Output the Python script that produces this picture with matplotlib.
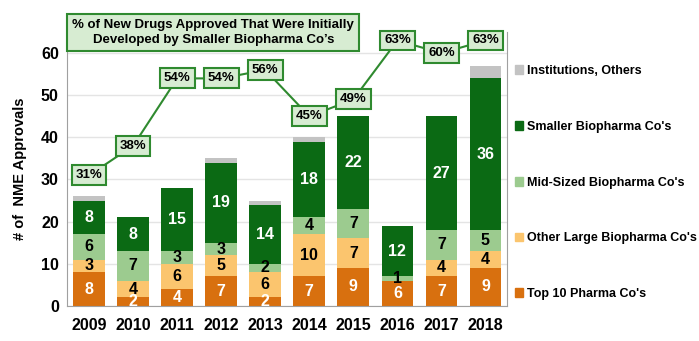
import numpy as np
import matplotlib.pyplot as plt
from matplotlib.patches import Patch

plt.rcParams['font.family'] = ['Liberation Sans', 'DejaVu Sans']
plt.rcParams['font.weight'] = 'bold'

years = ['2009', '2010', '2011', '2012', '2013', '2014', '2015', '2016', '2017', '2018']
top10 = [8, 2, 4, 7, 2, 7, 9, 6, 7, 9]
other_large = [3, 4, 6, 5, 6, 10, 7, 0, 4, 4]
mid_sized = [6, 7, 3, 3, 2, 4, 7, 1, 7, 5]
smaller = [8, 8, 15, 19, 14, 18, 22, 12, 27, 36]
institutions = [1, 0, 0, 1, 1, 1, 0, 0, 0, 3]
pct_smaller = [31, 38, 54, 54, 56, 45, 49, 63, 60, 63]

series = [
    ("Top 10 Pharma Co's", top10, '#d8700f', 'white'),
    ("Other Large Biopharma Co's", other_large, '#fbc56e', 'black'),
    ("Mid-Sized Biopharma Co's", mid_sized, '#9ccb8f', 'black'),
    ("Smaller Biopharma Co's", smaller, '#0b6a14', 'white'),
    ("Institutions, Others", institutions, '#c3c3c3', None),
]

fig = plt.figure(figsize=(6.99, 3.41), dpi=100)
ax = fig.add_axes([0.096, 0.103, 0.63, 0.803])

x = np.arange(len(years))
bottom = np.zeros(len(years))
for name, vals, col, tcol in series:
    vals = np.array(vals)
    ax.bar(x, vals, 0.72, bottom=bottom, color=col, zorder=2)
    if tcol:
        for xi, b, v in zip(x, bottom, vals):
            if v > 0:
                ax.text(xi, b + v / 2, str(v), ha='center', va='center',
                        color=tcol, fontsize=11.5, fontweight='bold', zorder=3)
    bottom += vals

# percent line with boxed labels
ax.plot(x, pct_smaller, color='#2f8a2f', lw=1.5, zorder=4)
for xi, p in zip(x, pct_smaller):
    ax.text(xi, p, f'{p}%', ha='center', va='center', fontsize=9.5, fontweight='bold',
            zorder=5, bbox=dict(boxstyle='square,pad=0.3', fc='#d7ecd2', ec='#2f8a2f', lw=1.5))

ax.set_ylim(0, 65)
ax.set_xlim(-0.5, 9.5)
ax.set_yticks(range(0, 61, 10))
ax.set_xticks(x)
ax.set_xticklabels(years)
ax.tick_params(axis='both', labelsize=11.5, length=0)
ax.tick_params(axis='x', pad=9)
ax.tick_params(axis='y', pad=6)
ax.grid(axis='y', color='#e4e4e4', lw=1, zorder=0)
ax.spines['top'].set_visible(False)
for s in ['left', 'right', 'bottom']:
    ax.spines[s].set_color('#a0a0a0')
ax.set_ylabel('# of  NME Approvals', fontsize=10.5, fontweight='bold', labelpad=10)

fig.text(0.305, 0.905, "% of New Drugs Approved That Were Initially\nDeveloped by Smaller Biopharma Co’s",
         ha='center', va='center', fontsize=9.5, fontweight='bold', linespacing=1.3,
         bbox=dict(boxstyle='square,pad=0.4', fc='#d7ecd2', ec='#2f8a2f', lw=1.5))

handles = [Patch(color=c, label=n) for n, v, c, t in series][::-1]
ax.legend(handles=handles, loc='center left', bbox_to_anchor=(1.005, 0.45), frameon=False,
          fontsize=9, handlelength=0.7, handleheight=0.7, handletextpad=0.3,
          labelspacing=3.5, borderaxespad=0)

fig.savefig('out.png', dpi=100)
